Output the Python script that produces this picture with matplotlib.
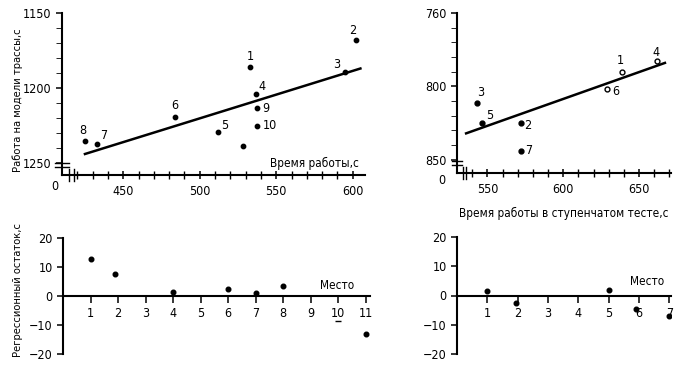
import matplotlib.pyplot as plt
import numpy as np

plt.rcParams['font.family'] = ['DejaVu Sans']
plt.rcParams['font.stretch'] = 'condensed'

# верхний левый график: время работы / работа на модели трассы
place_a = ['1', '2', '3', '4', '5', '6', '7', '8', '9', '10', '']
time_a = [533, 602, 595, 537, 512, 484, 433, 425, 537.5, 537.5, 528]
track_a = [1186, 1168, 1189, 1204, 1229, 1219, 1237, 1235, 1213, 1225, 1238.5]
line_a_x = [425, 605]
line_a_y = [1244, 1187]
lbl_off_a = [(0, 10), (-3, 9), (-8, 7), (6, 7), (7, 6), (0, 11), (6, 8),
             (-2, 10), (9, -1), (13, 0), (0, 0)]

# верхний правый график: ступенчатый тест
place_b = ['1', '2', '3', '4', '5', '6', '7']
time_b = [638.5, 572, 543.4, 662, 546.6, 629, 572]
track_b = [790, 825, 811, 783, 825, 802, 844]
hollow_b = [True, False, False, True, False, True, False]
line_b_x = [536, 667]
line_b_y = [832, 784]
lbl_off_b = [(-1, 11), (7, -2), (3, 10), (-1, 9), (7, 8), (9, -2), (8, 0)]

# нижние графики: регрессионный остаток по месту
rank_a = [1, 1.9, 4, 6, 7, 8, 11]
resid_a = [12.6, 7.5, 1.4, 2.3, 1.1, 3.4, -13.1]
rank_a_dash = [10]
resid_a_dash = [-8.6]
rank_b = [1, 1.95, 5, 5.9, 7]
resid_b = [1.6, -2.6, 2.0, -4.7, -7.0]

fig = plt.figure(figsize=(6.78, 3.71), dpi=100)
W, H = 678, 371


def px_axes(x0, y0, x1, y1):
    return fig.add_axes([x0 / W, 1 - y1 / H, (x1 - x0) / W, (y1 - y0) / H])


def style(ax):
    for s in ['top', 'right']:
        ax.spines[s].set_visible(False)
    for s in ['left', 'bottom']:
        ax.spines[s].set_linewidth(1.5)
    ax.tick_params(labelsize=9, width=1.1)


def breaks(ax, ybreak, xbreak):
    kw = dict(transform=ax.transAxes, color='black', lw=1.0, clip_on=False)
    # разрыв оси y ("=")
    for d in (-0.012, 0.012):
        ax.plot([-0.022, 0.022], [ybreak + d, ybreak + d], **kw)
    # разрыв оси x ("||")
    for d in (-0.008, 0.008):
        ax.plot([xbreak + d, xbreak + d], [-0.035, 0.035], **kw)


# ---------- верхний левый ----------
ax1 = px_axes(62, 13, 365, 175)
style(ax1)
ax1.scatter(time_a, track_a, s=10, color='black', zorder=3)
ax1.plot(line_a_x, line_a_y, color='black', lw=1.8)
for t, x, y, o in zip(place_a, time_a, track_a, lbl_off_a):
    ax1.annotate(t, (x, y), xytext=o, textcoords='offset pixels',
                 ha='center', va='center', fontsize=9)
ax1.set_xlim(410, 608)
ax1.set_ylim(1258, 1150)
ax1.set_xticks([450, 500, 550, 600])
ax1.set_xticks(np.arange(420, 610, 10), minor=True)
ax1.set_yticks([1150, 1200, 1250])
ax1.set_yticks(np.arange(1160, 1250, 10), minor=True)
ax1.tick_params(axis='x', which='both', direction='inout', length=6, pad=4)
ax1.tick_params(axis='x', which='minor', width=1.0)
ax1.tick_params(axis='y', which='both', length=4)
ax1.text(575, 1250, 'Время работы,с', ha='center', va='center', fontsize=8.5)
breaks(ax1, 0.06, 0.03)
fig.text(55 / W, 1 - 186 / H, '0', ha='center', va='center', fontsize=9)
fig.text(18 / W, 1 - 100 / H, 'Работа на модели трассы,с', rotation=90,
         ha='center', va='center', fontsize=8)

# ---------- верхний правый ----------
ax2 = px_axes(457, 13, 671, 173)
style(ax2)
for x, y, h in zip(time_b, track_b, hollow_b):
    ax2.plot(x, y, 'o', ms=3.5, mec='black',
             mfc='white' if h else 'black', mew=1.0, zorder=3)
ax2.plot(line_b_x, line_b_y, color='black', lw=1.8)
for t, x, y, o in zip(place_b, time_b, track_b, lbl_off_b):
    ax2.annotate(t, (x, y), xytext=o, textcoords='offset pixels',
                 ha='center', va='center', fontsize=9)
ax2.set_xlim(530, 671)
ax2.set_ylim(859, 750)
ax2.set_xticks([550, 600, 650])
ax2.set_xticks(np.arange(540, 675, 10), minor=True)
ax2.set_yticks([750, 800, 850])
ax2.set_yticklabels(['760', '800', '850'])
ax2.set_yticks(np.arange(760, 850, 10), minor=True)
ax2.tick_params(axis='x', which='both', direction='inout', length=6, pad=4)
ax2.tick_params(axis='x', which='minor', width=1.0)
ax2.tick_params(axis='y', which='both', length=4)
ax2.set_xlabel('Время работы в ступенчатом тесте,с', fontsize=8.5, labelpad=8)
breaks(ax2, 0.06, 0.035)
fig.text(442 / W, 1 - 180 / H, '0', ha='center', va='center', fontsize=9)

# ---------- нижний левый ----------
ax3 = px_axes(63, 238, 370, 354)
style(ax3)
ax3.spines['bottom'].set_position(('data', 0))
ax3.scatter(rank_a, resid_a, s=11, color='black', zorder=3)
ax3.plot(rank_a_dash, resid_a_dash, '_', ms=4, color='black', mew=1.0)
ax3.set_xlim(0, 11.15)
ax3.set_ylim(-20, 20)
ax3.set_xticks(range(1, 12))
ax3.set_yticks([-20, -10, 0, 10, 20])
ax3.tick_params(axis='x', length=5, pad=3)
ax3.tick_params(axis='y', length=4)
ax3.text(9.95, 3.6, 'Место', ha='center', va='center', fontsize=8.5)
fig.text(18 / W, 1 - 290 / H, 'Регрессионный остаток,с', rotation=90,
         ha='center', va='center', fontsize=8)

# ---------- нижний правый ----------
ax4 = px_axes(457, 237, 671, 354)
style(ax4)
ax4.spines['bottom'].set_position(('data', 0))
ax4.scatter(rank_b, resid_b, s=11, color='black', zorder=3)
ax4.set_xlim(0, 7.05)
ax4.set_ylim(-20, 20)
ax4.set_xticks(range(1, 8))
ax4.set_yticks([-20, -10, 0, 10, 20])
ax4.tick_params(axis='x', length=5, pad=3)
ax4.tick_params(axis='y', length=4)
ax4.text(6.27, 4.8, 'Место', ha='center', va='center', fontsize=8.5)

fig.savefig('out.png', dpi=100)
